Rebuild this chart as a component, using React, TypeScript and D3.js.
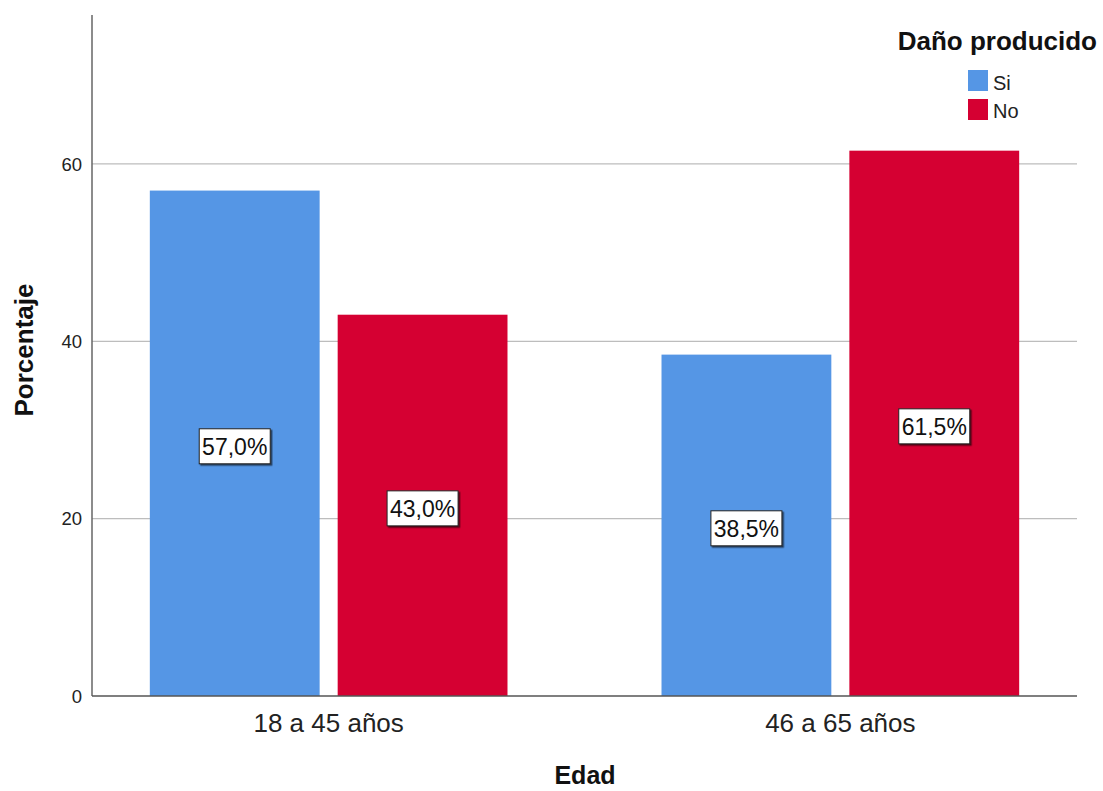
import React from "react";
import * as d3 from "d3";

const categories = ["18 a 45 años", "46 a 65 años"];
const series = ["Si", "No"];
const siValues = [57.0, 38.5];
const noValues = [43.0, 61.5];
const labelsSi = ["57,0%", "38,5%"];
const labelsNo = ["43,0%", "61,5%"];
const yTicks = [0, 20, 40, 60];
const colors = ["#5596e5", "#d50032"];

const W = 1103, H = 791;
const left = 92, right = 1077, top = 15, bottom = 696;

export default function App() {
  const y = d3.scaleLinear().domain([0, 76.8]).range([bottom, top]);
  const x0 = d3.scaleBand<string>().domain(categories).range([left, right]).paddingInner(0.301).paddingOuter(0.113);
  const x1 = d3.scaleBand<string>().domain(series).range([0, x0.bandwidth()]).paddingInner(0.096).paddingOuter(0);
  const valuesBySeries = [siValues, noValues];
  const labelsBySeries = [labelsSi, labelsNo];
  const font = "'Liberation Sans', Arial, sans-serif";

  return (
    <svg width={W} height={H} style={{ position: "absolute", left: 0, top: 0, background: "#fff" }} fontFamily={font}>
      <defs>
        <filter id="sh" x="-20%" y="-20%" width="150%" height="150%">
          <feDropShadow dx="1.5" dy="1.5" stdDeviation="0.6" floodColor="#000" floodOpacity="0.6" />
        </filter>
      </defs>
      {yTicks.filter(t => t > 0).map(t => (
        <line key={t} x1={left} x2={right} y1={y(t)} y2={y(t)} stroke="#bdbdbd" strokeWidth={1.3} />
      ))}
      {yTicks.map(t => (
        <text key={t} x={left - 10} y={y(t)} dy="0.36em" textAnchor="end" fontSize={18.5} fill="#222">{t}</text>
      ))}
      {categories.map((c, ci) => (
        <g key={c} transform={`translate(${x0(c)},0)`}>
          {series.map((s, si) => {
            const v = valuesBySeries[si][ci];
            return (
              <rect key={s} x={x1(s)} y={y(v)} width={x1.bandwidth()} height={bottom - y(v)} fill={colors[si]} />
            );
          })}
        </g>
      ))}
      {categories.map((c, ci) => (
        <g key={c + "l"} transform={`translate(${x0(c)},0)`}>
          {series.map((s, si) => {
            const v = valuesBySeries[si][ci];
            const cx = (x1(s) as number) + x1.bandwidth() / 2;
            const cy = (y(v) + bottom) / 2 + 3;
            const bw = 71, bh = 35;
            return (
              <g key={s}>
                <rect x={cx - bw / 2} y={cy - bh / 2} width={bw} height={bh} fill="#fff" stroke="#222" strokeWidth={1} filter="url(#sh)" />
                <text x={cx} y={cy} dy="0.36em" textAnchor="middle" fontSize={23} fill="#111">{labelsBySeries[si][ci]}</text>
              </g>
            );
          })}
        </g>
      ))}
      <line x1={left} x2={left} y1={top} y2={bottom} stroke="#666" strokeWidth={1.5} />
      <line x1={left} x2={right} y1={bottom} y2={bottom} stroke="#555" strokeWidth={1.5} />
      {categories.map(c => (
        <text key={c} x={(x0(c) as number) + x0.bandwidth() / 2} y={732} textAnchor="middle" fontSize={26} fill="#222">{c}</text>
      ))}
      <text x={585} y={784} textAnchor="middle" fontSize={25} fontWeight="bold" fill="#111">Edad</text>
      <text transform="translate(33,350) rotate(-90)" textAnchor="middle" fontSize={26} fontWeight="bold" fill="#111">Porcentaje</text>
      <text x={1097} y={50} textAnchor="end" fontSize={26} fontWeight="bold" fill="#111">Daño producido</text>
      {series.map((s, i) => (
        <g key={s}>
          <rect x={968} y={70 + i * 29} width={20} height={21} fill={colors[i]} />
          <text x={993} y={90 + i * 28} fontSize={20} fill="#222">{s}</text>
        </g>
      ))}
    </svg>
  );
}
